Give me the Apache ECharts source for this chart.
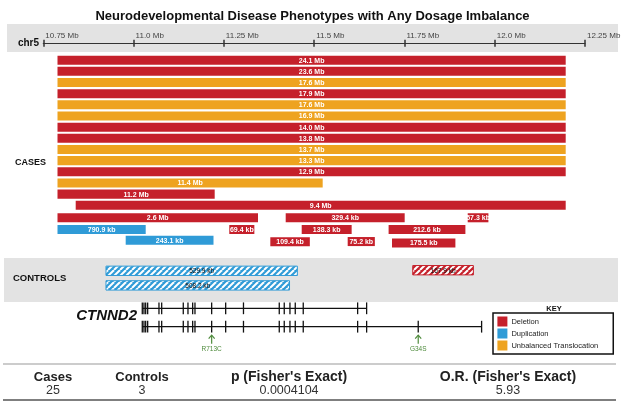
<!DOCTYPE html>
<html><head><meta charset="utf-8">
<script src="https://cdn.jsdelivr.net/npm/echarts@6/dist/echarts.min.js"></script>
<style>html,body{margin:0;padding:0;background:#fff}#c{width:625px;height:406px}</style>
</head><body><div id="c"></div>
<script>
// ---------- DATA ----------
const tickValues = [10.75, 11.0, 11.25, 11.5, 11.75, 12.0, 12.25];
const tickLabels = ['10.75 Mb', '11.0 Mb', '11.25 Mb', '11.5 Mb', '11.75 Mb', '12.0 Mb', '12.25 Mb'];

const typeNames = ['Deletion', 'Duplication', 'Unbalanced Translocation'];
const typeColors = ['#c5202b', '#2f9bd7', '#eea320'];

// cases (Mb)
const caseLabels = ['24.1 Mb','23.6 Mb','17.6 Mb','17.9 Mb','17.6 Mb','16.9 Mb','14.0 Mb','13.8 Mb','13.7 Mb','13.3 Mb','12.9 Mb','11.4 Mb','11.2 Mb','9.4 Mb','2.6 Mb','329.4 kb','57.3 kb','790.9 kb','69.4 kb','138.3 kb','212.6 kb','243.1 kb','109.4 kb','75.2 kb','175.5 kb'];
const caseType   = [0,0,2,0,2,2,0,0,2,2,0,2,0,0,0,0,0,1,0,0,0,1,0,0,0];
const caseStart  = [0.5,1.0,2.0,0.3,3.5,1.2,4.0,0.8,2.5,0.1,5.0,0.1235,0.0245,10.8397,8.7444,11.4211,11.9250,10.2426,11.2649,11.4654,11.7060,10.9781,11.3785,11.5927,11.7154];
const caseEnd    = [24.6,24.6,19.6,18.2,21.1,18.1,18.0,14.6,16.2,13.4,17.9,11.5235,11.2245,20.2397,11.3444,11.7505,11.9823,11.0335,11.3343,11.6037,11.9186,11.2212,11.4879,11.6679,11.8909];
const caseLane   = [1,2,3,4,5,6,7,8,9,10,11,12,13,14,15.12,15.12,15.12,16.17,16.17,16.17,16.17,17.14,17.26,17.25,17.38];

// controls
const ctrlLabels = ['529.9 kb', '508.2 kb', '167.9 kb'];
const ctrlType   = [1, 1, 0];
const ctrlStart  = [10.9236, 10.9236, 11.7730];
const ctrlEnd    = [11.4535, 11.4318, 11.9409];
const ctrlLane   = [1, 2, 0.96];

// gene structure (CTNND2)
const transcriptStart = [11.0241, 11.0241];
const transcriptEnd   = [11.6453, 11.9637];
const exonsShared = [11.0241,11.0288,11.0335,11.0390,11.0703,11.0778,11.1376,11.1506,11.1636,11.1700,11.2162,11.2550,11.3043,11.4034,11.4172,11.4330,11.4477,11.4698,11.6204];
const exonsTop    = exonsShared.concat([11.6453]);
const exonsBottom = exonsShared.concat([11.6453, 11.7882, 11.9637]);
const variantPos    = [11.2162, 11.7882];
const variantLabels = ['R713C', 'G34S'];

// table
const tableHeaders = ['Cases', 'Controls', "p (Fisher's Exact)", "O.R. (Fisher's Exact)"];
const tableValues  = ['25', '3', '0.0004104', '5.93'];

// ---------- CHART ----------
const FONT = 'Liberation Sans, Arial, Helvetica, sans-serif';
const chart = echarts.init(document.getElementById('c'), null, {renderer: 'canvas'});

function stripe(color) {
  const c = document.createElement('canvas'); c.width = 6; c.height = 6;
  const g = c.getContext('2d');
  g.fillStyle = color; g.fillRect(0, 0, 6, 6);
  g.strokeStyle = '#ffffff'; g.lineWidth = 2;
  [-6, 0, 6].forEach(k => { g.beginPath(); g.moveTo(k, 6); g.lineTo(k + 6, 0); g.stroke(); });
  return c;
}
const stripes = [stripe(typeColors[0]), stripe(typeColors[1])];

function caseRender(params, api) {
  const idx = api.value(3);
  const p0 = api.coord([api.value(0), api.value(2)]);
  const p1 = api.coord([api.value(1), api.value(2)]);
  const h = api.size([0, 0.81])[1];
  const cs = params.coordSys;
  const r = echarts.graphic.clipRectByRect(
    {x: p0[0], y: p0[1] - h / 2, width: p1[0] - p0[0], height: h},
    {x: cs.x, y: cs.y - 20, width: cs.width, height: cs.height + 40});
  if (!r) return;
  return {type: 'group', children: [
    {type: 'rect', shape: r, style: {fill: api.visual('color')}},
    {type: 'text', x: r.x + r.width / 2, y: r.y + r.height / 2 + 0.5,
     style: {text: caseLabels[idx], fill: '#fff', font: 'bold 7px ' + FONT, align: 'center', verticalAlign: 'middle'}}
  ]};
}

function ctrlRender(params, api) {
  const idx = api.value(3);
  const p0 = api.coord([api.value(0), api.value(2)]);
  const p1 = api.coord([api.value(1), api.value(2)]);
  const h = api.size([0, 0.64])[1];
  const col = typeColors[ctrlType[idx]];
  return {type: 'group', children: [
    {type: 'rect', shape: {x: p0[0], y: p0[1] - h / 2, width: p1[0] - p0[0], height: h},
     style: {fill: {image: stripes[ctrlType[idx]], repeat: 'repeat'}, stroke: col, lineWidth: 1}},
    {type: 'text', x: (p0[0] + p1[0]) / 2, y: p0[1] + 0.5,
     style: {text: ctrlLabels[idx], fill: '#111', font: '6.5px ' + FONT, align: 'center', verticalAlign: 'middle'}}
  ]};
}

function transcriptRender(params, api) {
  const p0 = api.coord([api.value(0), api.value(2)]);
  const p1 = api.coord([api.value(1), api.value(2)]);
  return {type: 'line', shape: {x1: p0[0], y1: p0[1], x2: p1[0], y2: p1[1]}, style: {stroke: '#111', lineWidth: 1.3}};
}
function exonRender(params, api) {
  const p = api.coord([api.value(0), api.value(1)]);
  const hh = api.size([0, 0.64])[1] / 2;
  return {type: 'line', shape: {x1: p[0], y1: p[1] - hh, x2: p[0], y2: p[1] + hh}, style: {stroke: '#111', lineWidth: 1.3}};
}
function variantRender(params, api) {
  const idx = api.value(2);
  const p = api.coord([api.value(0), api.value(1)]);
  const g = '#4e8b3c';
  return {type: 'group', children: [
    {type: 'line', shape: {x1: p[0], y1: p[1] + 17, x2: p[0], y2: p[1] + 8.5}, style: {stroke: g, lineWidth: 1.2}},
    {type: 'polyline', shape: {points: [[p[0] - 3, p[1] + 12], [p[0], p[1] + 8.5], [p[0] + 3, p[1] + 12]]}, style: {stroke: g, lineWidth: 1.2, fill: null}},
    {type: 'text', x: p[0], y: p[1] + 22.5, style: {text: variantLabels[idx], fill: g, font: '6.5px ' + FONT, align: 'center', verticalAlign: 'middle'}}
  ]};
}

const caseSeries = typeNames.map((name, t) => ({
  name, type: 'custom', xAxisIndex: 2, yAxisIndex: 1,
  itemStyle: {color: typeColors[t]},
  encode: {x: [0, 1], y: 2},
  renderItem: caseRender,
  data: caseLabels.map((_, i) => i).filter(i => caseType[i] === t)
    .map(i => [caseStart[i], caseEnd[i], caseLane[i], i])
}));

const rulerX = {type: 'value', min: 10.75, max: 12.25, interval: 0.25};

// graphic
const graphics = [
  {type: 'rect', z: 0, shape: {x: 7, y: 24, width: 611, height: 28}, style: {fill: '#e3e3e3'}},
  {type: 'rect', z: 0, shape: {x: 4, y: 258, width: 614, height: 44}, style: {fill: '#e3e3e3'}},
  {type: 'text', x: 39, y: 43, style: {text: 'chr5', font: 'bold 10px ' + FONT, fill: '#111', align: 'right', verticalAlign: 'middle'}},
  {type: 'text', x: 15, y: 163, style: {text: 'CASES', font: 'bold 9px ' + FONT, fill: '#111', align: 'left', verticalAlign: 'middle'}},
  {type: 'text', x: 13, y: 278, style: {text: 'CONTROLS', font: 'bold 9.5px ' + FONT, fill: '#111', align: 'left', verticalAlign: 'middle'}},
  {type: 'text', x: 137, y: 316, style: {text: 'CTNND2', font: 'italic bold 15px ' + FONT, fill: '#111', align: 'right', verticalAlign: 'middle'}},
  {type: 'text', x: 554, y: 309, style: {text: 'KEY', font: 'bold 7.5px ' + FONT, fill: '#111', align: 'center', verticalAlign: 'middle'}},
  {type: 'line', shape: {x1: 3, y1: 364, x2: 616, y2: 364}, style: {stroke: '#9a9a9a', lineWidth: 1.2}},
  {type: 'line', shape: {x1: 3, y1: 400, x2: 616, y2: 400}, style: {stroke: '#555', lineWidth: 1.3}}
];
const colX = [53, 142, 289, 508];
const headerSize = [13, 13, 14, 14];
tableHeaders.forEach((t, i) => graphics.push({type: 'text', x: colX[i], y: 377,
  style: {text: t, font: 'bold ' + headerSize[i] + 'px ' + FONT, fill: '#222', align: 'center', verticalAlign: 'middle'}}));
tableValues.forEach((t, i) => graphics.push({type: 'text', x: colX[i], y: 391,
  style: {text: t, font: '12.5px ' + FONT, fill: '#333', align: 'center', verticalAlign: 'middle'}}));

const option = {
  animation: false,
  title: {text: 'Neurodevelopmental Disease Phenotypes with Any Dosage Imbalance', left: 'center', top: 5,
    textStyle: {fontFamily: FONT, fontSize: 13, fontWeight: 'bold', color: '#111'}},
  legend: {data: typeNames, orient: 'vertical', left: 493, top: 313, icon: 'rect',
    itemWidth: 10, itemHeight: 10, itemGap: 2, padding: [3.5, 15, 3.5, 4.4],
    borderColor: '#111', borderWidth: 1.5, selectedMode: false,
    textStyle: {fontFamily: FONT, fontSize: 7.5, color: '#222', padding: [0, 0, 0, -1]}},
  grid: [
    {left: 43.3, right: 40, top: 42.2, height: 1, outerBoundsMode: 'none', containLabel: false},
    {left: 57.5, right: 59.3, top: 54.6, height: 200.9, outerBoundsMode: 'none', containLabel: false},
    {left: 43.3, right: 40, top: 263.5, height: 29.2, outerBoundsMode: 'none', containLabel: false},
    {left: 43.3, right: 40, top: 299.1, height: 36.8, outerBoundsMode: 'none', containLabel: false}
  ],
  xAxis: [
    Object.assign({}, rulerX, {gridIndex: 0, position: 'top',
      axisLine: {show: true, lineStyle: {color: '#333', width: 1.2}},
      axisTick: {show: true, length: 3.5, lineStyle: {color: '#333', width: 1.5}},
      splitLine: {show: false},
      axisLabel: {show: true, showMinLabel: true, showMaxLabel: true, hideOverlap: false,
        align: 'left', margin: 2, padding: [0, 0, 0, 2], fontSize: 8, fontFamily: FONT, color: '#444',
        formatter: v => tickLabels[tickValues.findIndex(t => Math.abs(t - v) < 1e-6)] || ''}}),
    Object.assign({}, rulerX, {gridIndex: 0, position: 'bottom',
      axisLine: {show: false}, axisLabel: {show: false}, splitLine: {show: false},
      axisTick: {show: true, length: 3.5, lineStyle: {color: '#333', width: 1.5}}}),
    {type: 'value', gridIndex: 1, min: 10.7893, max: 12.1963, show: false},
    Object.assign({}, rulerX, {gridIndex: 2, show: false}),
    Object.assign({}, rulerX, {gridIndex: 3, show: false})
  ],
  yAxis: [
    {type: 'value', gridIndex: 0, show: false, min: 0, max: 1},
    {type: 'value', gridIndex: 1, show: false, min: 0.5, max: 18.5, inverse: true},
    {type: 'value', gridIndex: 2, show: false, min: 0.5, max: 2.5, inverse: true},
    {type: 'value', gridIndex: 3, show: false, min: 0.5, max: 2.5, inverse: true}
  ],
  graphic: graphics,
  series: caseSeries.concat([
    {name: 'Controls', type: 'custom', xAxisIndex: 3, yAxisIndex: 2, encode: {x: [0, 1], y: 2},
     renderItem: ctrlRender,
     data: ctrlLabels.map((_, i) => [ctrlStart[i], ctrlEnd[i], ctrlLane[i], i])},
    {name: 'Transcripts', type: 'custom', xAxisIndex: 4, yAxisIndex: 3, encode: {x: [0, 1], y: 2},
     renderItem: transcriptRender,
     data: transcriptStart.map((s, i) => [s, transcriptEnd[i], i + 1])},
    {name: 'Exons', type: 'custom', xAxisIndex: 4, yAxisIndex: 3, encode: {x: 0, y: 1},
     renderItem: exonRender,
     data: exonsTop.map(p => [p, 1]).concat(exonsBottom.map(p => [p, 2]))},
    {name: 'Variants', type: 'custom', xAxisIndex: 4, yAxisIndex: 3, encode: {x: 0, y: 1},
     renderItem: variantRender,
     data: variantPos.map((p, i) => [p, 2, i])}
  ])
};
chart.setOption(option);
</script></body></html>
